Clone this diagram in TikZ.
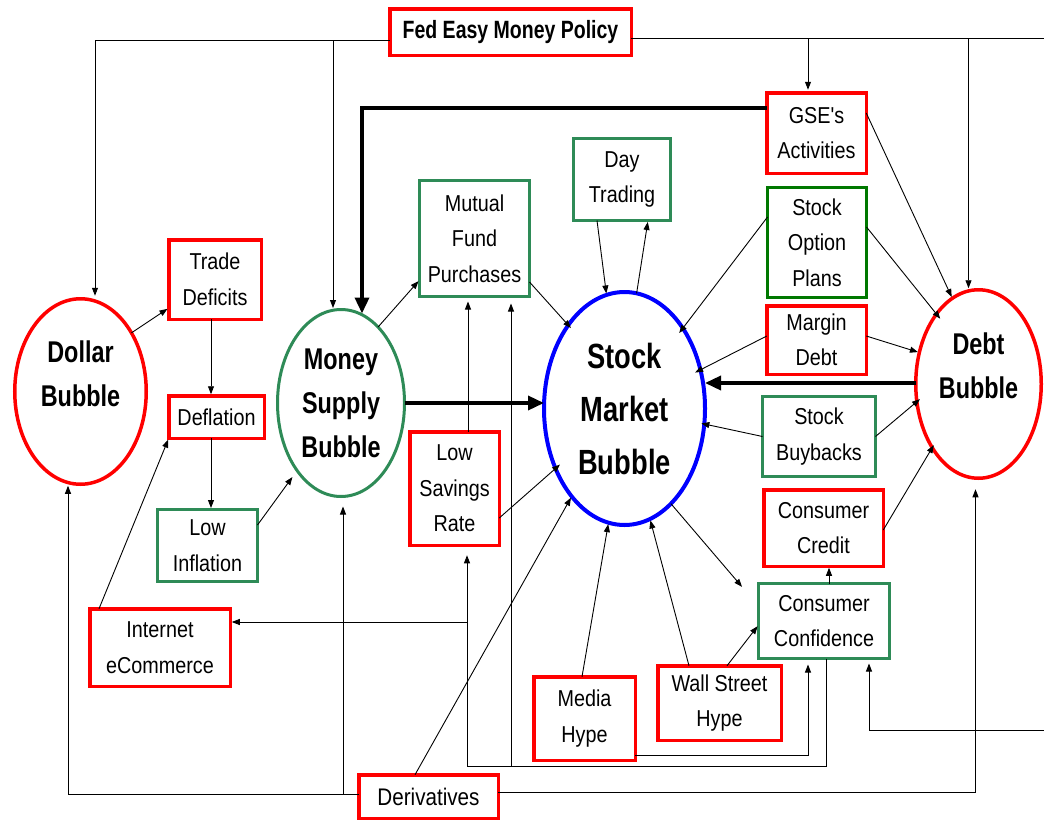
\documentclass[tikz,border=0pt]{standalone}
\usepackage{fontspec}
\setmainfont{Liberation Sans}[FakeStretch=0.86, Ligatures=TeXOff]
\newfontfamily\bubfont{Liberation Sans}[FakeStretch=0.78]
\usetikzlibrary{shapes.geometric,arrows.meta,calc}
\definecolor{bred}{RGB}{255,0,0}
\definecolor{bgreen}{RGB}{46,139,87}
\definecolor{dgreen}{RGB}{0,120,0}
\definecolor{bblue}{RGB}{0,0,255}
\tikzset{
  box/.style={draw, line width=3.5pt, inner sep=0pt, outer sep=0pt, align=center,
    font={\fontsize{23}{35.5}\selectfont}},
  redbox/.style={box, draw=bred},
  grnbox/.style={box, draw=bgreen, line width=3pt},
  bub/.style={ellipse, line width=3.5pt, inner sep=0pt, outer sep=0pt, align=center,
    font={\bubfont\bfseries\fontsize{30}{44}\selectfont}},
  bubtxt/.style={align=center, font={\bubfont\bfseries\fontsize{30}{44}\selectfont}},
  arr/.style={draw=black, line width=0.9pt, shorten >=1.5pt, -{Triangle[length=8pt,width=6pt]}},
  ln/.style={draw=black, line width=0.9pt},
  tarr/.style={draw=black, line width=3.5pt, -{Triangle[length=16pt,width=14pt]}},
}
\begin{document}
\begin{tikzpicture}[x=1pt,y=-1pt]
\useasboundingbox (0,0) rectangle (1044,822);

% ellipses
\node[bub, draw=bred, minimum width=131.5pt, minimum height=185.5pt,
  label={[bubtxt, yshift=18pt]center:Dollar\\Bubble}] (dollar) at (80.5,391.5) {};
\node[bub, draw=bgreen, line width=3pt, minimum width=127pt, minimum height=187pt] (money) at (341,403) {Money\\Supply\\Bubble};
\node[bub, draw=bblue, line width=4pt, minimum width=161pt, minimum height=233pt,
  font={\bubfont\bfseries\fontsize{35}{53}\selectfont}] (sm) at (624.5,408.5) {Stock\\Market\\Bubble};
\node[bub, draw=bred, minimum width=125.5pt, minimum height=188.5pt,
  label={[bubtxt, yshift=18pt]center:Debt\\Bubble}] (debt) at (978.5,384) {};

% boxes
\node[redbox, minimum width=241.5pt, minimum height=46.5pt,
  font={\bubfont\bfseries\fontsize{25}{28}\selectfont}] (fed) at (510.5,32) {Fed Easy Money Policy};
\node[redbox, minimum width=99.5pt, minimum height=80.5pt] (gse) at (816.5,133) {GSE's\\Activities};
\node[box, draw=dgreen, line width=3pt, minimum width=99pt, minimum height=110pt] (sop) at (817,242.5) {Stock\\Option\\Plans};
\node[redbox, minimum width=99.5pt, minimum height=68.5pt] (margin) at (816.5,340) {Margin\\Debt};
\node[grnbox, minimum width=97pt, minimum height=82pt] (day) at (622,179.5) {Day\\Trading};
\node[grnbox, minimum width=110pt, minimum height=116pt] (mutual) at (474.5,238.5) {Mutual\\Fund\\Purchases};
\node[redbox, minimum width=92.5pt, minimum height=79.5pt] (trade) at (215,279.5) {Trade\\Deficits};
\node[redbox, minimum width=95.5pt, minimum height=42.5pt] (deflation) at (216.5,417) {Deflation};
\node[grnbox, minimum width=100pt, minimum height=72pt] (lowinf) at (207.5,545.5) {Low\\Inflation};
\node[redbox, minimum width=140.5pt, minimum height=77.5pt] (internet) at (160,647.5) {Internet\\eCommerce};
\node[redbox, minimum width=89.5pt, minimum height=113.5pt] (lowsav) at (454.5,488.5) {Low\\Savings\\Rate};
\node[redbox, minimum width=139.5pt, minimum height=43.5pt,
  font={\fontsize{24}{28}\selectfont}] (deriv) at (428.5,796.5) {Derivatives};
\node[redbox, minimum width=101.5pt, minimum height=83.5pt] (media) at (584.5,718.5) {Media\\Hype};
\node[redbox, minimum width=123.5pt, minimum height=74.5pt] (wall) at (719.5,703) {Wall Street\\Hype};
\node[grnbox, minimum width=131pt, minimum height=75pt] (conf) at (824,621) {Consumer\\Confidence};
\node[redbox, minimum width=119.5pt, minimum height=76.5pt] (credit) at (823.5,528) {Consumer\\Credit};
\node[grnbox, minimum width=113pt, minimum height=80pt] (buyback) at (819,436.5) {Stock\\Buybacks};

% free ends and bends
\coordinate (edgeT) at (1044,38);
\coordinate (edgeR) at (1044,730);
\coordinate (loopR) at (826,766);
\coordinate (loopL) at (467,766);
\coordinate (loopM) at (511,766);
\coordinate (netj) at (467,622);

% Fed connectors
\draw[arr, shorten >=3pt] ([yshift=-8pt]fed.west) -| ([xshift=14.5pt]dollar.north);
\draw[arr] ([yshift=-8pt]fed.west) -| ([xshift=-8pt]money.north);
\draw[ln] ([yshift=-6pt]fed.east) -- (edgeT);
\draw[arr, shorten >=3pt] ([yshift=-6pt]fed.east) -| ([xshift=-8.5pt]gse.north);
\draw[arr] ([yshift=-6pt]fed.east) -| ([xshift=-10pt]debt.north);

% thick connectors
\draw[tarr] ([yshift=25pt]gse.west) -| ([xshift=21pt,yshift=-4pt]money.north);
\draw[tarr] (money.east) -- (money.east -| sm.west);
\draw[tarr] ([yshift=1pt]debt.west) -- ([yshift=1pt]debt.west -| sm.east);

% left part
\draw[arr] (dollar.49.5) -- ([yshift=-28.5pt]trade.west);
\draw[arr] ([xshift=-4pt]trade.south) -- ([xshift=-4pt]trade.south |- deflation.north);
\draw[arr] ([xshift=-5.5pt]deflation.south) -- ([xshift=-5.5pt]deflation.south |- lowinf.north);
\draw[arr, shorten >=8pt] ([yshift=20.5pt]lowinf.east) -- (money.237);
\draw[arr] ([xshift=-61pt]internet.north) -- (deflation.south west);
\draw[arr] (money.64) -- ([yshift=-41.5pt]mutual.west);

% into stock market
\draw[arr, shorten >=-4pt] ([yshift=-43.5pt]mutual.east) -- (sm.124.5);
\draw[arr] ([xshift=-25pt]day.south) -- (sm.99);
\draw[arr] (sm.84) -- ([xshift=26pt]day.south);
\draw[arr, shorten >=-6pt] ([yshift=25.5pt]sop.west) -- (sm.54.8);
\draw[arr, shorten >=-6pt] ([yshift=4pt]margin.west) -- (sm.27.8);
\draw[arr, shorten >=-3pt] (buyback.west) -- (sm.-11.2);
\draw[arr, shorten >=-6pt] ([yshift=-29.5pt]lowsav.east) -- (sm.221);
\draw[arr] ([xshift=-13.5pt]deriv.north) -- (sm.239.5);
\draw[arr] ([xshift=-2.5pt]media.north) -- (sm.262.4);
\draw[arr] ([xshift=-30.5pt]wall.north) -- (sm.-77);
\draw[arr] (sm.-64.7) -- ([xshift=-15.5pt,yshift=33pt]conf.west);

% into debt bubble
\draw[arr] ([yshift=20pt]gse.east) -- (debt.107.8);
\draw[arr, shorten >=-6pt] ([yshift=15.5pt]sop.east) -- (debt.121.7);
\draw[arr] ([yshift=4pt]margin.east) -- (debt.152.5);
\draw[arr, shorten >=-4pt] (buyback.east) -- (debt.196.5);
\draw[arr, shorten >=-3pt] ([yshift=-2pt]credit.east) -- (debt.234);

% consumer side
\draw[arr] ([xshift=5pt]conf.north) -- ([xshift=5pt]conf.north |- credit.south);
\draw[arr] ([xshift=7.5pt]wall.north) -- ([yshift=-4pt]conf.west);
\draw[arr, shorten >=6pt] ([yshift=-36.5pt]media.east) -| ([xshift=-16pt]conf.south);
\draw[arr, shorten >=5pt] (edgeR) -| ([xshift=45pt]conf.south);

% bottom loop from consumer confidence
\draw[arr, shorten >=10pt] ([xshift=2pt]conf.south) -- (loopR) -- (loopL) -- (loopL |- lowsav.south);
\draw[arr, shorten >=7pt] (loopM) -- (loopM |- mutual.south);
\draw[arr] (netj) -- (netj -| internet.east);
\draw[arr, shorten >=5pt] ([xshift=13.5pt]lowsav.north) -- ([xshift=13.5pt]lowsav.north |- mutual.south);

% derivatives
\draw[arr] ([yshift=2.5pt]deriv.west) -| ([xshift=-12.5pt]dollar.south);
\draw[arr, shorten >=10pt] ([yshift=2.5pt]deriv.west) -| ([xshift=2pt]money.south);
\draw[arr, shorten >=11pt] ([yshift=4.5pt]deriv.east) -| ([xshift=-3pt]debt.south);
\end{tikzpicture}
\end{document}
